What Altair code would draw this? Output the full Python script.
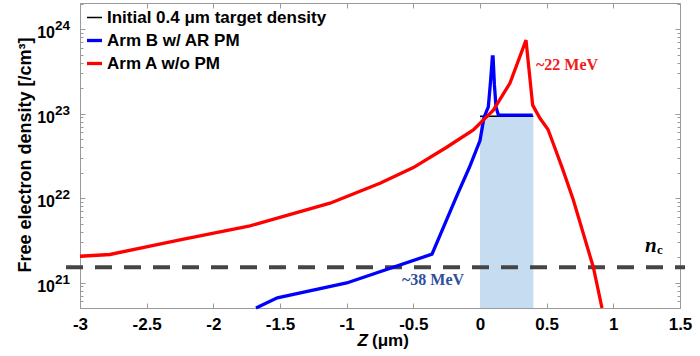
import altair as alt
import pandas as pd

# ---------------- data ----------------
SERIES = ["Initial 0.4 \u03bcm target density", "Arm B w/ AR PM", "Arm A w/o PM"]
COLORS = ["#000000", "#0000ff", "#ff0000"]

init_z = [0.0, 0.4]
init_n = [9.3e22, 9.3e22]

arm_b_z = [-1.68, -1.52, -1.0, -0.36, -0.17, -0.08, 0.0, 0.03, 0.0625, 0.08, 0.093,
           0.098, 0.108, 0.12, 0.138, 0.395]
arm_b_n = [5.0e20, 6.6e20, 9.9e20, 2.17e21, 1.1e22, 2.3e22, 4.8e22, 9.0e22, 1.2e23,
           2.5e23, 4.7e23, 4.7e23, 2.2e23, 1.2e23, 9.6e22, 9.6e22]

arm_a_z = [-3.0, -2.775, -2.25, -1.725, -1.125, -0.75, -0.5, -0.25, -0.05, 0.1, 0.225,
           0.345, 0.395, 0.45, 0.51, 0.55, 0.62, 0.7, 0.85, 0.915]
arm_a_n = [2.05e21, 2.15e21, 3.2e21, 4.7e21, 8.7e21, 1.5e22, 2.3e22, 4.0e22, 6.4e22,
           1.1e23, 2.3e23, 7.4e23, 1.26e23, 8.8e22, 6.5e22, 4.4e22, 2.2e22, 9.5e21,
           1.52e21, 5.0e20]

n_c = 1.52e21

X_DOMAIN = [-3, 1.5]
Y_DOMAIN = [5e20, 2.04e24]
X_TICKS = [-3, -2.5, -2, -1.5, -1, -0.5, 0, 0.5, 1, 1.5]
Y_EXP = [21, 22, 23, 24]
Y_MAJOR = [10.0 ** e for e in Y_EXP]
Y_MINOR = [m * 10.0 ** e for e in [20, 21, 22, 23, 24] for m in range(2, 10)]
Y_MINOR = [v for v in Y_MINOR if Y_DOMAIN[0] <= v <= Y_DOMAIN[1]]

# ---------------- styling ----------------
W, H = 600, 305
SANS = "Liberation Sans"
SERIF = "Liberation Serif"
FRAME = "#9a9a9a"

lines_df = pd.concat([
    pd.DataFrame({"z": init_z, "n": init_n, "series": SERIES[0], "idx": range(len(init_z))}),
    pd.DataFrame({"z": arm_b_z, "n": arm_b_n, "series": SERIES[1], "idx": range(len(arm_b_z))}),
    pd.DataFrame({"z": arm_a_z, "n": arm_a_n, "series": SERIES[2], "idx": range(len(arm_a_z))}),
], ignore_index=True)

target_df = pd.DataFrame({"z0": [init_z[0]], "z1": [init_z[1]], "n": [init_n[0]]})
nc_df = pd.DataFrame({"n": [n_c]})
ylab_df = pd.DataFrame({"n": Y_MAJOR, "base": ["10"] * len(Y_EXP), "exp": [str(e) for e in Y_EXP]})
dummy = pd.DataFrame({"a": [0]})

xs = alt.Scale(domain=X_DOMAIN, nice=False, zero=False)
ys = alt.Scale(type="log", domain=Y_DOMAIN, nice=False)

common_axis = dict(domain=False, grid=False, title=None, tickColor=FRAME, tickWidth=1)
ax_bottom = alt.Axis(orient="bottom", values=X_TICKS, offset=-5, tickSize=5,
                     labelFont=SANS, labelFontSize=17, labelFontWeight="bold",
                     labelColor="black", labelPadding=8, labelFlush=False,
                     labelOverlap=False, labelExpr="'' + datum.value", **common_axis)
ax_top = alt.Axis(orient="top", values=X_TICKS, offset=-5, tickSize=5, labels=False, **common_axis)
ax_left = alt.Axis(orient="left", values=Y_MAJOR, offset=-5, tickSize=5, labels=False, **common_axis)
ax_right = alt.Axis(orient="right", values=Y_MAJOR, offset=-5, tickSize=5, labels=False, **common_axis)
ax_left_minor = alt.Axis(orient="left", values=Y_MINOR, offset=-3, tickSize=3, labels=False, **common_axis)
ax_right_minor = alt.Axis(orient="right", values=Y_MINOR, offset=-3, tickSize=3, labels=False, **common_axis)

legend = alt.Legend(orient="none", legendX=5, legendY=6, title=None, direction="vertical",
                    labelFont=SANS, labelFontWeight="bold", labelFontSize=17,
                    labelColor="black", symbolType="stroke", symbolSize=225,
                    rowPadding=5, padding=0, labelOffset=3, labelLimit=500)

shade = alt.Chart(target_df).mark_rect(color="#c6dcf1").encode(
    x=alt.X("z0:Q", scale=xs, axis=None), x2="z1:Q",
    y=alt.Y("n:Q", scale=ys, axis=None), y2=alt.datum(Y_DOMAIN[0]),
)

nc_rule = alt.Chart(nc_df).mark_rule(color="#454545", strokeWidth=4, strokeDash=[17, 12]).encode(
    y=alt.Y("n:Q", scale=ys, axis=None), x=alt.value(-14), x2=alt.value(605),
)

lines = alt.Chart(lines_df).mark_line(strokeJoin="miter", strokeCap="butt").encode(
    x=alt.X("z:Q", scale=xs, axis=ax_bottom),
    y=alt.Y("n:Q", scale=ys, axis=ax_left),
    color=alt.Color("series:N", scale=alt.Scale(domain=SERIES, range=COLORS), legend=legend),
    strokeWidth=alt.StrokeWidth("series:N",
                                scale=alt.Scale(type="ordinal", domain=SERIES, range=[1.5, 3.3, 3.3]),
                                legend=legend),
    order="idx:Q",
)

def ghost(xaxis, yaxis):
    return alt.Chart(lines_df).mark_point(opacity=0).encode(
        x=alt.X("z:Q", scale=xs, axis=xaxis), y=alt.Y("n:Q", scale=ys, axis=yaxis))

g_tr = ghost(ax_top, ax_right)
g_lm = ghost(None, ax_left_minor)
g_rm = ghost(None, ax_right_minor)

ylab_base = alt.Chart(ylab_df).mark_text(align="right", baseline="alphabetic", dy=9,
                                         font=SANS, fontSize=16, fontWeight="bold", color="black").encode(
    x=alt.value(-25), y=alt.Y("n:Q", scale=ys, axis=None), text="base:N")
ylab_exp = alt.Chart(ylab_df).mark_text(align="left", baseline="alphabetic", dy=1,
                                        font=SANS, fontSize=13.5, fontWeight="bold", color="black").encode(
    x=alt.value(-25), y=alt.Y("n:Q", scale=ys, axis=None), text="exp:N")

y_title = alt.Chart(dummy).mark_text(text="Free electron density [/cm\u00b3]", angle=270,
                                     align="center", baseline="alphabetic", font=SANS,
                                     fontSize=18, fontWeight="bold", color="black").encode(
    x=alt.value(-49), y=alt.value(152))
x_title_z = alt.Chart(dummy).mark_text(text="Z", align="right", baseline="alphabetic", font=SANS,
                                       fontSize=17, fontWeight="bold", fontStyle="italic",
                                       color="black").encode(x=alt.value(288), y=alt.value(343))
x_title_u = alt.Chart(dummy).mark_text(text="(\u03bcm)", align="left", baseline="alphabetic", font=SANS,
                                       fontSize=17, fontWeight="bold", color="black").encode(
    x=alt.value(292), y=alt.value(343))

def note(txt, z, n, color, size, align="left", baseline="middle", style="normal"):
    return alt.Chart(dummy).mark_text(text=txt, align=align, baseline=baseline, font=SERIF,
                                      fontSize=size, fontWeight="bold", fontStyle=style,
                                      color=color).encode(
        x=alt.XDatum(z, scale=xs, axis=None), y=alt.YDatum(n, scale=ys, axis=None))

mev22 = note("~22 MeV", 0.42, 3.75e23, "#ee1c1c", 16)
mev38 = note("~38 MeV", -0.585, 1.07e21, "#2e4f9e", 16)
nc_n = note("n", 1.2375, 2.29e21, "black", 21, baseline="alphabetic", style="italic")
nc_c = note("c", 1.3275, 2.17e21, "black", 13, baseline="alphabetic")

chart = alt.layer(
    shade, nc_rule, lines, g_tr, g_lm, g_rm,
    ylab_base, ylab_exp, y_title, x_title_z, x_title_u,
    mev22, mev38, nc_n, nc_c,
).properties(
    width=W, height=H,
    autosize=alt.AutoSizeParams(type="none"),
    padding={"left": 80, "top": 3, "right": 20, "bottom": 48},
    background="white",
).configure_view(stroke=FRAME, strokeWidth=1)

chart.save("out.html", embed_options={"renderer": "svg", "actions": False})
